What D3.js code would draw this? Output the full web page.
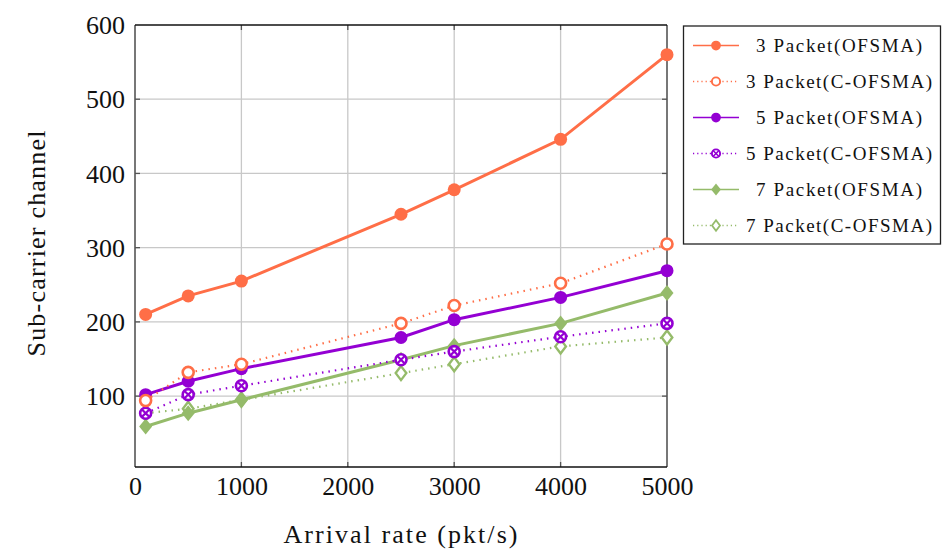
<!DOCTYPE html>
<html><head><meta charset="utf-8">
<script src="https://cdn.jsdelivr.net/npm/d3@7"></script>
<style>body{margin:0;background:#fff;} svg{display:block;} text{font-family:"Liberation Serif","DejaVu Serif",serif;fill:#111;}</style>
</head><body><svg id="c" width="942" height="552"></svg>
<script>
const arrival = [100, 500, 1000, 2500, 3000, 4000, 5000];
const p3_ofsma  = [210, 235, 255, 345, 378, 446, 560];
const p3_cofsma = [94, 132, 143, 198, 222, 252, 305];
const p5_ofsma  = [102, 120, 137, 179, 203, 233, 269];
const p5_cofsma = [77, 102, 114, 149, 160, 180, 198];
const p7_ofsma  = [59, 77, 95, 149, 168, 198, 239];
const p7_cofsma = [77, 83, 95, 131, 143, 167, 179];
const xTicks = [0, 1000, 2000, 3000, 4000, 5000];
const yTicks = [100, 200, 300, 400, 500, 600];
const seriesNames = ["3 Packet(OFSMA)","3 Packet(C-OFSMA)","5 Packet(OFSMA)","5 Packet(C-OFSMA)","7 Packet(OFSMA)","7 Packet(C-OFSMA)"];

const orange = "#ff6e47", purple = "#9400d3", green = "#95bb6a";
const series = [
  {name: seriesNames[0], vals: p3_ofsma, color: orange, dotted: false, marker: "fcircle"},
  {name: seriesNames[1], vals: p3_cofsma, color: orange, dotted: true, marker: "ocircle"},
  {name: seriesNames[2], vals: p5_ofsma, color: purple, dotted: false, marker: "fcircle"},
  {name: seriesNames[3], vals: p5_cofsma, color: purple, dotted: true, marker: "otimes"},
  {name: seriesNames[4], vals: p7_ofsma, color: green, dotted: false, marker: "fdiamond"},
  {name: seriesNames[5], vals: p7_cofsma, color: green, dotted: true, marker: "odiamond"}
];

const svg = d3.select("#c");
const L = 135, R = 667, T = 25, B = 467;
const x = d3.scaleLinear().domain([0, 5000]).range([L, R]);
const y = d3.scaleLinear().domain([4.5, 600]).range([B, T]);

// grid
const g = svg.append("g");
g.selectAll(".vg").data(xTicks.slice(1, -1)).enter().append("line")
  .attr("x1", d => x(d)).attr("x2", d => x(d)).attr("y1", T).attr("y2", B)
  .attr("stroke", "#c8c8c8").attr("stroke-width", 1.3);
g.selectAll(".hg").data(yTicks.slice(0, -1)).enter().append("line")
  .attr("x1", L).attr("x2", R).attr("y1", d => y(d)).attr("y2", d => y(d))
  .attr("stroke", "#c8c8c8").attr("stroke-width", 1.3);

// axes via d3 axis
const xAxis = d3.axisBottom(x).tickValues(xTicks).tickSize(0).tickPadding(0).tickFormat(d3.format("d"));
const yAxis = d3.axisLeft(y).tickValues(yTicks).tickSize(0).tickPadding(10).tickFormat(d3.format("d"));
const gx = svg.append("g").attr("transform", `translate(0,${B})`).call(xAxis);
const gy = svg.append("g").attr("transform", `translate(${L},0)`).call(yAxis);
[gx, gy].forEach(a => { a.select(".domain").remove(); a.selectAll("text").style("font-size", "26px").style("font-family", '"Liberation Serif",serif').attr("fill", "#111"); });
gx.selectAll("text").attr("y", 28).attr("dy", null);
gy.selectAll("text").attr("dy", "0.33em");

// inner tick marks
svg.append("g").selectAll("line").data(yTicks.slice(0,-1)).enter().append("line")
  .attr("x1", L).attr("x2", L + 5).attr("y1", d => y(d)).attr("y2", d => y(d)).attr("stroke", "#555").attr("stroke-width", 1.3);
svg.append("g").selectAll("line").data(yTicks.slice(0,-1)).enter().append("line")
  .attr("x1", R - 5).attr("x2", R).attr("y1", d => y(d)).attr("y2", d => y(d)).attr("stroke", "#555").attr("stroke-width", 1.3);
svg.append("g").selectAll("line").data(xTicks.slice(1,-1)).enter().append("line")
  .attr("x1", d => x(d)).attr("x2", d => x(d)).attr("y1", B).attr("y2", B - 5).attr("stroke", "#555").attr("stroke-width", 1.3);
svg.append("g").selectAll("line").data(xTicks.slice(1,-1)).enter().append("line")
  .attr("x1", d => x(d)).attr("x2", d => x(d)).attr("y1", T).attr("y2", T + 5).attr("stroke", "#555").attr("stroke-width", 1.3);

// frame
svg.append("line").attr("x1", L).attr("x2", L).attr("y1", T).attr("y2", B).attr("stroke", "#555").attr("stroke-width", 1.6);
svg.append("line").attr("x1", R).attr("x2", R).attr("y1", T).attr("y2", B).attr("stroke", "#555").attr("stroke-width", 1.6);
svg.append("line").attr("x1", L).attr("x2", R).attr("y1", T).attr("y2", T).attr("stroke", "#111").attr("stroke-width", 1.6);
svg.append("line").attr("x1", L).attr("x2", R).attr("y1", B).attr("y2", B).attr("stroke", "#111").attr("stroke-width", 1.6);

function drawMarker(sel, type, color, s) {
  if (type === "fcircle") {
    sel.append("circle").attr("r", 6.5 * s).attr("fill", color);
  } else if (type === "ocircle") {
    sel.append("circle").attr("r", 5.5 * s).attr("fill", "#fff").attr("stroke", color).attr("stroke-width", 2.6 * s);
  } else if (type === "otimes") {
    sel.append("circle").attr("r", 5.5 * s).attr("fill", "#fff").attr("stroke", color).attr("stroke-width", 2.6 * s);
    const r = 5.5 * s * 0.72;
    sel.append("path").attr("d", `M${-r},${-r}L${r},${r}M${-r},${r}L${r},${-r}`).attr("stroke", color).attr("stroke-width", 2.2 * s);
  } else if (type === "fdiamond") {
    sel.append("path").attr("d", `M0,${-8*s}L${6.5*s},0L0,${8*s}L${-6.5*s},0Z`).attr("fill", color);
  } else if (type === "odiamond") {
    sel.append("path").attr("d", `M0,${-7*s}L${5.3*s},0L0,${7*s}L${-5.3*s},0Z`).attr("fill", "#fff").attr("stroke", color).attr("stroke-width", 2.4 * s);
  }
}

const line = d3.line().x((d, i) => x(arrival[i])).y(d => y(d));
const order = [5, 4, 3, 2, 1, 0];
order.forEach(k => {
  const s = series[k];
  svg.append("path").attr("d", line(s.vals)).attr("fill", "none").attr("stroke", s.color)
    .attr("stroke-width", s.dotted ? 2.2 : 3).attr("stroke-dasharray", s.dotted ? "1.5,5" : null);
  s.vals.forEach((v, i) => {
    const m = svg.append("g").attr("transform", `translate(${x(arrival[i])},${y(v)})`);
    drawMarker(m, s.marker, s.color, 1);
  });
});

// axis titles
svg.append("text").attr("x", 400.5).attr("y", 543).attr("text-anchor", "middle").style("font-size", "26px")
  .attr("textLength", 234).attr("lengthAdjust", "spacing").text("Arrival rate (pkt/s)");
svg.append("text").attr("transform", `translate(45,243.5) rotate(-90)`).attr("text-anchor", "middle").style("font-size", "26px")
  .attr("textLength", 226).attr("lengthAdjust", "spacing").text("Sub-carrier channel");

// legend
const lg = svg.append("g");
lg.append("rect").attr("x", 683.5).attr("y", 26).attr("width", 257).attr("height", 218).attr("fill", "#fff").attr("stroke", "#222").attr("stroke-width", 1.3);
series.forEach((s, i) => {
  const ry = 45.5 + i * 36;
  lg.append("line").attr("x1", 693).attr("x2", 739).attr("y1", ry).attr("y2", ry).attr("stroke", s.color)
    .attr("stroke-width", 1.3).attr("stroke-dasharray", s.dotted ? "1.2,3" : null);
  const m = lg.append("g").attr("transform", `translate(716,${ry})`);
  drawMarker(m, s.marker, s.color, 0.75);
  const tl = s.dotted ? 186 : 166;
  lg.append("text").attr("x", 839).attr("y", ry).attr("dy", "0.35em").attr("text-anchor", "middle").style("font-size", "19px")
    .attr("textLength", tl).attr("lengthAdjust", "spacing").text(s.name);
});
</script></body></html>
